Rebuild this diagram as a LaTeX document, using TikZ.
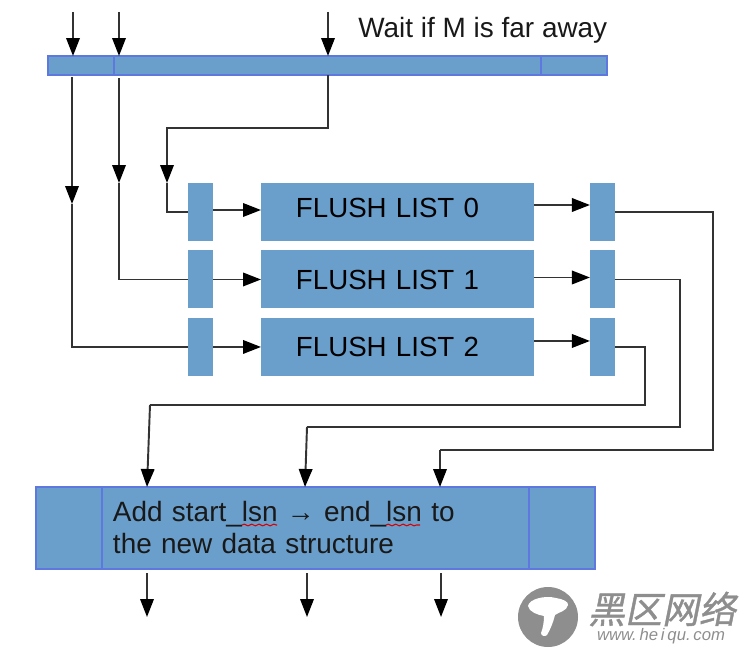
\documentclass[tikz,border=0pt]{standalone}
\usepackage{fontspec}
\setmainfont{Liberation Sans}
\newfontfamily\cjkmark[FakeSlant=.2,FakeBold=1]{Noto Sans CJK SC}
\usetikzlibrary{calc,positioning,arrows.meta,decorations.pathmorphing}
\definecolor{boxblue}{HTML}{6A9FCC}
\definecolor{edgeblue}{HTML}{5F78E0}
\definecolor{markgray}{HTML}{8E8E8E}

\begin{document}
\begin{tikzpicture}[x=.02cm,y=-.02cm,node distance=.19cm]
	\tikzset{
		barseg/.style={draw=edgeblue, fill=boxblue, line width=.7pt, outer sep=0pt, inner sep=0pt},
		listbox/.style={fill=boxblue, outer sep=0pt, minimum width=5.46cm, minimum height=1.16cm, text width=4.06cm, inner xsep=.7cm, inner ysep=0pt, align=left, text height=.4cm, text depth=0pt, font=\fontsize{15.75}{18}\selectfont},
		slotbox/.style={fill=boxblue, outer sep=0pt, inner sep=0pt, minimum width=.5cm, minimum height=1.16cm},
		wire/.style={draw=black!80, line width=1.1pt},
		flow/.style={wire, -{Triangle[length=.36cm,width=.27cm,color=black]}},
		squiggle/.style={draw=red!85!black, line width=.6pt, decorate, decoration={snake,amplitude=.5pt,segment length=4.2pt}}
	}
	\useasboundingbox (0,0) rectangle (750,652);

	% top bar
	\node (tseg0) [barseg, minimum width=1.32cm, minimum height=.38cm, anchor=north west] at (48,56) {};
	\node (tseg1) [barseg, minimum width=8.54cm, minimum height=.38cm, right=0pt of tseg0] {};
	\node (tseg2) [barseg, minimum width=1.32cm, minimum height=.38cm, right=0pt of tseg1] {};
	\node (wait) [anchor=base west, inner sep=0pt, font=\fontsize{15.9}{18}\selectfont, text=black!90] at (358,38) {Wait if M is far away};

	% flush lists
	\node (list0) [listbox, text depth=.16cm, anchor=north west] at (261,183) {FLUSH LIST 0};
	\node (list1) [listbox, below=of list0] {FLUSH LIST 1};
	\node (list2) [listbox, below=of list1] {FLUSH LIST 2};

	\node (sl0) [slotbox, left=.96cm of list0] {};
	\node (sl1) [slotbox, left=.96cm of list1] {};
	\node (sl2) [slotbox, left=.96cm of list2] {};
	\node (sr0) [slotbox, right=1.12cm of list0] {};
	\node (sr1) [slotbox, right=1.12cm of list1] {};
	\node (sr2) [slotbox, right=1.12cm of list2] {};

	% bottom bar
	\node (bseg0) [barseg, minimum width=1.32cm, minimum height=1.64cm, anchor=north west] at (36,487) {};
	\node (bseg1) [barseg, minimum width=8.54cm, minimum height=1.64cm, right=0pt of bseg0, text width=8.1cm, inner xsep=.22cm, align=left, font=\fontsize{15.9}{18.2}\selectfont, text=black!90] {Add start\_lsn → end\_lsn to\\the new data structure};
	\node (bseg2) [barseg, minimum width=1.32cm, minimum height=1.64cm, right=0pt of bseg1] {};
	\draw[squiggle] (242,525) -- (277,525);
	\draw[squiggle] (386,525) -- (420,525);

	% arrows in from the top
	\coordinate (in0) at (73,12);
	\coordinate (in1) at (119,12);
	\coordinate (in2) at (328,12);
	\draw[flow] (in0) -- (in0 |- tseg0.north);
	\draw[flow] (in1) -- (in1 |- tseg1.north);
	\draw[flow] (in2) -- (in2 |- tseg1.north);

	% down to the left slots
	\coordinate (out0) at (72,77);
	\coordinate (out1) at (119,78);
	\coordinate (mid0) at (72,204);
	\coordinate (mid1) at (119,183);
	\coordinate (mid2) at (167,183);
	\coordinate (turn2) at (328,128);
	\draw[flow] (out0) -- (mid0);
	\draw[wire] (mid0) -- (mid0 |- sl2) -- (sl2.west);
	\draw[flow] (out1) -- (mid1);
	\draw[wire] (mid1) -- (mid1 |- sl1) -- (sl1.west);
	\draw[flow] (in2 |- tseg1.south) -- (turn2) -| (mid2);
	\draw[wire] (mid2) -- (mid2 |- sl0) -- (sl0.west);

	% through the lists
	\draw[flow] ([yshift=.04cm]sl0.east) -- ([yshift=.04cm]list0.west);
	\draw[flow] (sl1.east) -- (list1.west);
	\draw[flow] (sl2.east) -- (list2.west);
	\draw[flow] ([yshift=.14cm]list0.east) -- ([yshift=.14cm]sr0.west);
	\draw[flow] ([yshift=.04cm]list1.east) -- ([yshift=.04cm]sr1.west);
	\draw[flow] ([yshift=.12cm]list2.east) -- ([yshift=.12cm]sr2.west);

	% back to the bottom bar
	\coordinate (c2a) at (645,405);
	\coordinate (c2b) at (150,405);
	\coordinate (c1a) at (680,427);
	\coordinate (c1b) at (307,427);
	\coordinate (c0a) at (713,450);
	\coordinate (c0b) at (440,450);
	\coordinate (e2) at (147,487);
	\coordinate (e1) at (305,487);
	\coordinate (e0) at (440,487);
	\draw[wire] (sr2.east) -| (c2a) -- (c2b);
	\draw[flow] (c2b) -- (e2);
	\draw[wire] (sr1.east) -| (c1a) -- (c1b);
	\draw[flow] (c1b) -- (e1);
	\draw[wire] (sr0.east) -| (c0a) -- (c0b);
	\draw[flow] (c0b) -- (e0);

	% arrows out at the bottom
	\coordinate (o0) at (147,573);
	\coordinate (o1) at (307,573);
	\coordinate (o2) at (441,573);
	\draw[flow] (o0) -- ++(0,44);
	\draw[flow] (o1) -- ++(0,44);
	\draw[flow] (o2) -- ++(0,44);

	% mark in the corner
	\fill[markgray] (548,617) circle (.6cm);
	\fill[white] (528,606) .. controls (529,599) and (545,595) .. (556,598) .. controls (563,599) and (569,602) .. (568,605) .. controls (567,611) and (559,612) .. (555,615) .. controls (553,623) and (550,630) .. (547,635) .. controls (545,637) and (541,636) .. (541,633) .. controls (543,628) and (544,622) .. (544,616) .. controls (538,615) and (529,612) .. (528,606) -- cycle;
	\node (markcjk) [anchor=center, inner sep=0pt, text=markgray, font=\cjkmark\fontsize{21}{21}\selectfont] at (662,609) {黑区网络};
	\node (markurl) [anchor=center, inner sep=0pt, text=markgray, font=\fontsize{9.5}{12}\selectfont\itshape] at (661,636) {www.\,he\,i\,qu.\,com};
\end{tikzpicture}
\end{document}
